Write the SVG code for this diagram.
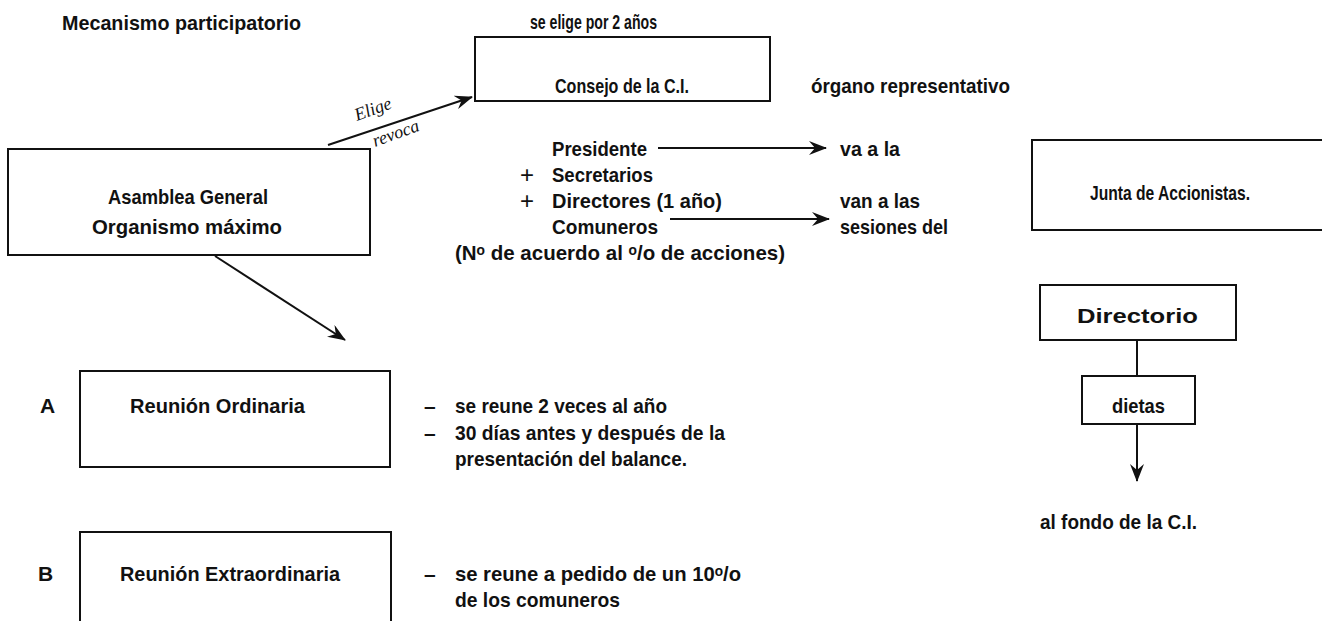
<svg xmlns="http://www.w3.org/2000/svg" width="1322" height="621" viewBox="0 0 1322 621">
<defs>
<style>
text{font-family:"Liberation Sans","DejaVu Sans",Arial,sans-serif;font-weight:bold;font-size:21px;fill:#111}
.it{font-family:"Liberation Serif","Times New Roman",serif;font-style:italic;font-weight:normal;font-size:18px}
.pl{font-weight:normal;font-size:24px}
.box{fill:none;stroke:#111;stroke-width:2}
.ln{fill:none;stroke:#111;stroke-width:2}
</style>
<marker id="ah" viewBox="0 0 18 14" refX="17" refY="7" markerWidth="18" markerHeight="14" markerUnits="userSpaceOnUse" orient="auto">
<path d="M0,0 L18,7 L0,14 L6,7 z" fill="#111"/>
</marker>
</defs>
<rect width="1322" height="621" fill="#fff"/>

<text x="62" y="30" textLength="239" lengthAdjust="spacingAndGlyphs">Mecanismo participatorio</text>

<g id="consejo">
<text x="530" y="29" textLength="127" lengthAdjust="spacingAndGlyphs">se elige por 2 años</text>
<rect class="box" x="475" y="37" width="295" height="64"/>
<text x="555" y="93" textLength="134" lengthAdjust="spacingAndGlyphs">Consejo de la C.I.</text>
<text x="811" y="93" textLength="199" lengthAdjust="spacingAndGlyphs">órgano representativo</text>
</g>

<g id="asamblea">
<rect class="box" x="8" y="149" width="362" height="106"/>
<text x="108" y="204" textLength="160" lengthAdjust="spacingAndGlyphs">Asamblea General</text>
<text x="92" y="234" textLength="190" lengthAdjust="spacingAndGlyphs">Organismo máximo</text>
</g>

<g id="miembros">
<text x="552" y="156" textLength="95" lengthAdjust="spacingAndGlyphs">Presidente</text>
<text class="pl" x="520" y="183">+</text>
<text x="552" y="182" textLength="101" lengthAdjust="spacingAndGlyphs">Secretarios</text>
<text class="pl" x="520" y="209">+</text>
<text x="552" y="208" textLength="170" lengthAdjust="spacingAndGlyphs">Directores (1 año)</text>
<text x="552" y="234" textLength="106" lengthAdjust="spacingAndGlyphs">Comuneros</text>
<text x="455" y="260" textLength="330" lengthAdjust="spacingAndGlyphs">(Nᵒ de acuerdo al  ᵒ/o de acciones)</text>
<text x="840" y="156" textLength="60" lengthAdjust="spacingAndGlyphs">va a la</text>
<text x="840" y="208" textLength="80" lengthAdjust="spacingAndGlyphs">van a las</text>
<text x="840" y="234" textLength="108" lengthAdjust="spacingAndGlyphs">sesiones del</text>
</g>

<g id="junta">
<rect class="box" x="1032" y="140" width="300" height="90"/>
<text x="1090" y="200" textLength="160" lengthAdjust="spacingAndGlyphs">Junta de Accionistas.</text>
</g>

<g id="directorio">
<rect class="box" x="1040" y="285" width="196" height="55"/>
<text x="1077" y="323" textLength="121" lengthAdjust="spacingAndGlyphs">Directorio</text>
</g>

<g id="dietas">
<rect class="box" x="1082" y="376" width="113" height="48"/>
<text x="1112" y="413" textLength="53" lengthAdjust="spacingAndGlyphs">dietas</text>
</g>

<g id="fondo">
<text x="1040" y="529" textLength="157" lengthAdjust="spacingAndGlyphs">al fondo de la C.I.</text>
</g>

<g id="ordinaria">
<text x="40" y="413">A</text>
<rect class="box" x="80" y="371" width="310" height="96"/>
<text x="130" y="413" textLength="175" lengthAdjust="spacingAndGlyphs">Reunión Ordinaria</text>
<text x="424" y="413">–</text>
<text x="455" y="413" textLength="212" lengthAdjust="spacingAndGlyphs">se reune 2 veces al año</text>
<text x="424" y="440">–</text>
<text x="455" y="440" textLength="270" lengthAdjust="spacingAndGlyphs">30 días antes y después de la</text>
<text x="455" y="466" textLength="232" lengthAdjust="spacingAndGlyphs">presentación del balance.</text>
</g>

<g id="extraordinaria">
<text x="38" y="581">B</text>
<rect class="box" x="80" y="532" width="311" height="100"/>
<text x="120" y="581" textLength="220" lengthAdjust="spacingAndGlyphs">Reunión Extraordinaria</text>
<text x="424" y="581">–</text>
<text x="455" y="581" textLength="286" lengthAdjust="spacingAndGlyphs">se reune a pedido de un 10ᵒ/o</text>
<text x="455" y="607" textLength="165" lengthAdjust="spacingAndGlyphs">de los comuneros</text>
</g>

<g id="connectors">
<line class="ln" x1="328" y1="145" x2="472" y2="97" marker-end="url(#ah)"/>
<text class="it" transform="translate(357,121) rotate(-20)">Elige</text>
<text class="it" transform="translate(375,147) rotate(-20)">revoca</text>
<line class="ln" x1="215" y1="256" x2="345" y2="340" marker-end="url(#ah)"/>
<line class="ln" x1="658" y1="148" x2="826" y2="148" marker-end="url(#ah)"/>
<line class="ln" x1="670" y1="219" x2="829" y2="219" marker-end="url(#ah)"/>
<line class="ln" x1="1137" y1="340" x2="1137" y2="376"/>
<line class="ln" x1="1137" y1="424" x2="1137" y2="481" marker-end="url(#ah)"/>
</g>
</svg>
